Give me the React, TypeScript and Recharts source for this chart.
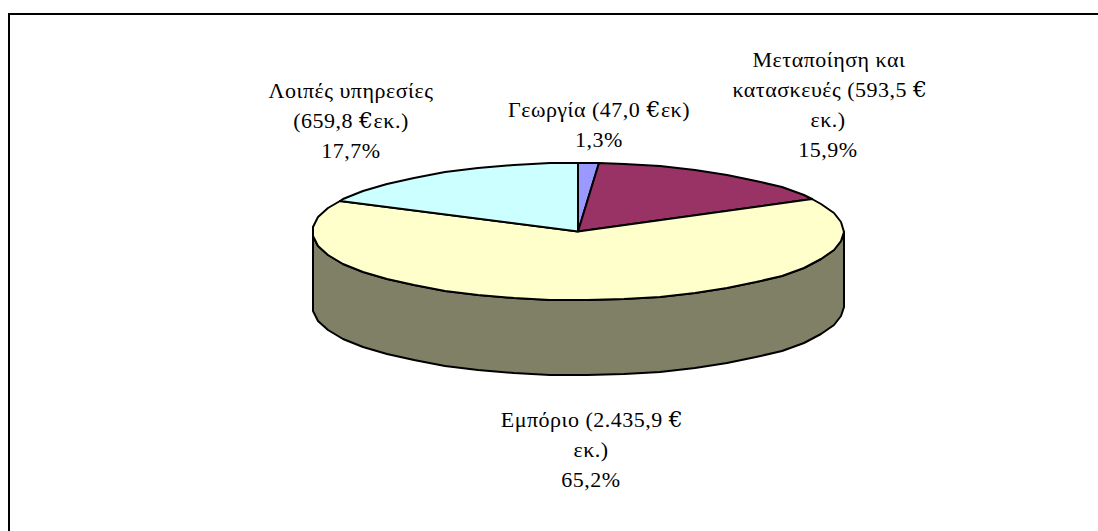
import { PieChart, Pie, Cell } from 'recharts';

const categories = ['Γεωργία', 'Μεταποίηση και κατασκευές', 'Εμπόριο', 'Λοιπές υπηρεσίες'];
const amounts = [47.0, 593.5, 2435.9, 659.8];
const labelLines = [
  ['Γεωργία (47,0 €εκ)', '1,3%'],
  ['Μεταποίηση και', 'κατασκευές (593,5 €', 'εκ.)', '15,9%'],
  ['Εμπόριο (2.435,9 €', 'εκ.)', '65,2%'],
  ['Λοιπές υπηρεσίες', '(659,8 €εκ.)', '17,7%'],
];
const colors = ['#9999ff', '#993366', '#ffffcc', '#ccffff'];
const WALL_COLOR = '#808066';

// centre x of every line and first baseline of every data label
const labelAnchors = [
  { x: [599, 599], y: 117 },
  { x: [829, 830, 828, 828], y: 67 },
  { x: [592, 591, 591], y: 427 },
  { x: [351, 351, 351], y: 98 },
];

const WIDTH = 1098;
const HEIGHT = 531;
const CX = 578;
const CY = 231.5;
const RX = 266;
const RY = 68.5; // the disc is seen from a low angle
const DEPTH = 75;
const LINE_HEIGHT = 30;
const RIM_STEP = 8; // the original rim is a coarse polygon, not a true ellipse

const chartData = categories.map((name, i) => ({ name, value: amounts[i] }));

function rimPoints(from: number, to: number, dy = 0) {
  // recharts angles run clockwise here, so `to` is smaller than `from`
  const angles = [from];
  for (let a = Math.floor(from / RIM_STEP) * RIM_STEP; a > to; a -= RIM_STEP) {
    if (a < from) angles.push(a);
  }
  angles.push(to);
  return angles.map((a) => {
    const rad = (a * Math.PI) / 180;
    return `${Math.round(CX + RX * Math.cos(rad))} ${Math.round(CY - RY * Math.sin(rad) + dy)}`;
  });
}

// Sector squashed into an ellipse, with the visible part of its side wall
function DiscSector(props: any) {
  const { startAngle, endAngle, fill } = props;
  const top = `M ${CX} ${CY} L ${rimPoints(startAngle, endAngle).join(' L ')} Z`;

  const wallFrom = Math.min(startAngle, 0);
  const wallTo = Math.max(endAngle, -184);
  let wall = null;
  if (wallFrom > wallTo) {
    const upper = rimPoints(wallFrom, wallTo);
    const lower = rimPoints(wallFrom, wallTo, DEPTH).reverse();
    wall = (
      <path
        d={`M ${[...upper, ...lower].join(' L ')} Z`}
        fill={WALL_COLOR}
        stroke="#000"
        strokeWidth={2}
        strokeLinejoin="round"
      />
    );
  }
  return (
    <g>
      {wall}
      <path d={top} fill={fill} stroke="#000" strokeWidth={2} strokeLinejoin="round" />
    </g>
  );
}

function SliceLabel({ index }: any) {
  const anchor = labelAnchors[index];
  return (
    <text
      textAnchor="middle"
      fontFamily='"Liberation Serif", serif'
      fontSize={22}
      letterSpacing={0.5}
      fill="#000"
    >
      {labelLines[index].map((line, i) => {
        const parts = line.split('€');
        return (
          <tspan key={i} x={anchor.x[i]} y={anchor.y + i * LINE_HEIGHT}>
            {parts[0]}
            {parts.length > 1 && <tspan fontFamily='"DejaVu Serif", serif'>€</tspan>}
            {parts[1]}
          </tspan>
        );
      })}
    </text>
  );
}

export default function App() {
  return (
    <div style={{ position: 'absolute', left: 0, top: 0, width: WIDTH, height: HEIGHT, background: '#fff', overflow: 'hidden' }}>
      <div
        style={{
          position: 'absolute',
          left: 8,
          top: 13,
          width: WIDTH - 8,
          height: HEIGHT - 13,
          borderLeft: '2px solid #000',
          borderTop: '2px solid #000',
          boxSizing: 'border-box',
        }}
      />
      <div style={{ position: 'absolute', left: 0, top: 0 }}>
        <PieChart width={WIDTH} height={HEIGHT}>
          <Pie
            data={chartData}
            dataKey="value"
            cx={CX}
            cy={CY}
            outerRadius={RX}
            startAngle={90}
            endAngle={-270}
            stroke="none"
            shape={DiscSector}
            label={SliceLabel}
            labelLine={false}
            isAnimationActive={false}
          >
            {chartData.map((_, i) => (
              <Cell key={i} fill={colors[i]} />
            ))}
          </Pie>
        </PieChart>
      </div>
    </div>
  );
}
